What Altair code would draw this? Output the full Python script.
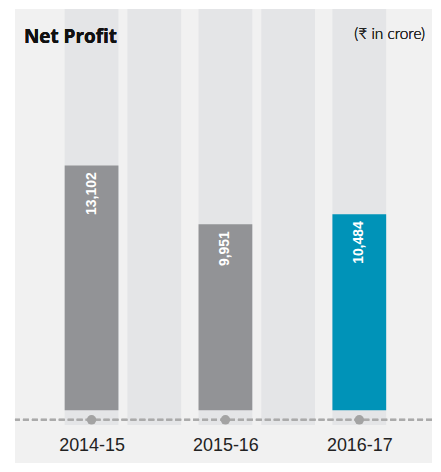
import altair as alt
import pandas as pd

years = ["2014-15", "2015-16", "2016-17"]
profit = [13102, 9951, 10484]
highlight = [False, False, True]
title_text = "Net Profit"
unit_text = "(₹ in crore)"

Y_MIN, Y_MAX = -2825, 21470
COL_BOTTOM = -800
BASELINE_MARK = -517

bars_df = pd.DataFrame({"year": years, "profit": profit, "hl": highlight,
                        "label": [f"{v:,}" for v in profit]})
cols_df = pd.DataFrame({"year": years, "lo": [COL_BOTTOM] * 3, "hi": [Y_MAX] * 3})
gaps_df = pd.DataFrame({"year": years[:2], "lo": [COL_BOTTOM] * 2, "hi": [Y_MAX] * 2})

xscale = alt.Scale(type="point", domain=years, padding=0.5576, align=0.513)
yscale = alt.Scale(domain=[Y_MIN, Y_MAX], nice=False, zero=False)

x_axis = alt.Axis(title=None, orient="bottom", offset=-26, domain=False, ticks=False,
                  grid=False, labelAngle=0, labelFont="Liberation Sans", labelFontSize=18,
                  labelColor="#222222", labelPadding=0, labelBaseline="top")

X = alt.X("year:N", scale=xscale, axis=x_axis)
Y_noax = dict(scale=yscale, axis=None)

columns = alt.Chart(cols_df).mark_bar(width=54, color="#e4e5e7").encode(
    x=X, y=alt.Y("lo:Q", **Y_noax), y2="hi:Q")
gaps = alt.Chart(gaps_df).mark_bar(width=54, color="#e4e5e7", xOffset=63).encode(
    x=X, y=alt.Y("lo:Q", **Y_noax), y2="hi:Q")

bars = alt.Chart(bars_df).mark_bar(width=54).encode(
    x=X,
    y=alt.Y("profit:Q", **Y_noax),
    y2=alt.datum(0),
    color=alt.Color("hl:N", scale=alt.Scale(domain=[False, True], range=["#929396", "#0093b8"]), legend=None),
)

labels = alt.Chart(bars_df).mark_text(angle=270, align="right", baseline="middle",
                                      font="Liberation Sans", fontSize=14, fontWeight="bold",
                                      color="white", yOffset=7).encode(
    x=X,
    y=alt.Y("profit:Q", **Y_noax),
    text="label:N",
)

rule = alt.Chart(bars_df).mark_rule(color="#aaaaaa", strokeWidth=2, strokeDash=[6, 3]).encode(
    y=alt.datum(BASELINE_MARK))

dots = alt.Chart(bars_df).mark_circle(size=90, color="#a3a3a3", opacity=1).encode(
    x=X,
    y=alt.datum(BASELINE_MARK),
)

title = alt.Chart(bars_df).mark_text(align="left", baseline="alphabetic", font="Open Sans",
                                     fontSize=19, fontWeight="bold", color="#111111").encode(
    x=alt.value(9), y=alt.value(34), text=alt.value(title_text))
unit = alt.Chart(bars_df).mark_text(align="right", baseline="middle", font="Lato",
                                    fontSize=15.5, fontWeight=300, color="#222222").encode(
    x=alt.value(412), y=alt.value(25), text=alt.value(unit_text))

chart = alt.layer(columns, gaps, bars, labels, rule, dots, title, unit).properties(
    width=419, height=456,
    padding={"left": 6, "top": 0, "right": 0, "bottom": 0},
    background="white",
).configure_view(fill="#f1f1f1", stroke=None)

chart.save("out.html", embed_options={"renderer": "svg", "actions": False})
